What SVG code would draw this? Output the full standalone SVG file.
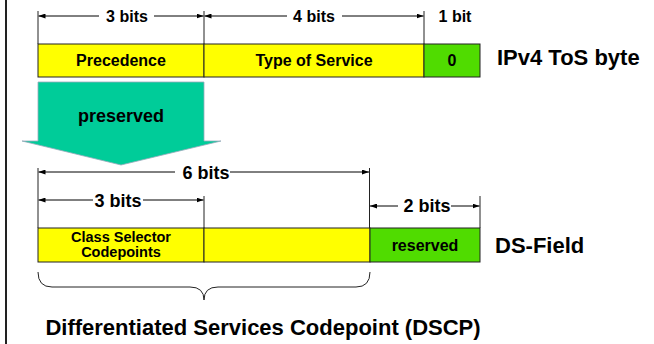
<svg xmlns="http://www.w3.org/2000/svg" width="654" height="344" viewBox="0 0 654 344">
<style>
text{font-family:"Liberation Sans",Arial,sans-serif;font-weight:bold;fill:#000;text-anchor:middle}
.y{fill:#FFFF00;stroke:#222;stroke-width:1}
.g{fill:#50DC00;stroke:#222;stroke-width:1}
.dim{stroke:#000;stroke-width:1;fill:none}
.dim-a{stroke:#000;stroke-width:1;fill:none;marker-end:url(#ah)}
.tick{stroke:#222;stroke-width:1}
.big{font-size:22px;text-anchor:start}
</style>
<defs>
<marker id="ah" viewBox="0 0 7 5" refX="7" refY="2.5" markerWidth="7" markerHeight="5" markerUnits="userSpaceOnUse" orient="auto">
<path d="M0,0 L7,2.5 L0,5 z" fill="#000"/>
</marker>
</defs>
<rect width="654" height="344" fill="#fff"/>
<line x1="6" y1="0" x2="6" y2="344" stroke="#222" stroke-width="2"/>

<g id="tos-precedence">
<rect class="y" x="38" y="44" width="166" height="33"/>
<text x="121" y="66" font-size="16">Precedence</text>
</g>
<g id="tos-type">
<rect class="y" x="204" y="44" width="220" height="33"/>
<text x="314" y="66" font-size="16">Type of Service</text>
</g>
<g id="tos-zero">
<rect class="g" x="424" y="44" width="56" height="33"/>
<text x="452" y="66" font-size="16">0</text>
</g>
<g id="tos-label"><text class="big" x="497" y="65">IPv4 ToS byte</text></g>

<g id="preserved">
<polygon points="38,82 204,82 204,141 221,141 121,165 22,141 38,141" fill="#00CC99" stroke="#9ab" stroke-width="0.8"/>
<text x="121" y="122" font-size="18">preserved</text>
</g>

<g id="ds-class">
<rect class="y" x="38" y="228" width="166" height="34"/>
<text x="121" y="242" font-size="14.5">Class Selector</text>
<text x="121" y="257" font-size="14.5">Codepoints</text>
</g>
<g id="ds-rest">
<rect class="y" x="204" y="228" width="166" height="34"/>
</g>
<g id="ds-reserved">
<rect class="g" x="370" y="228" width="110" height="34"/>
<text x="425" y="251" font-size="16">reserved</text>
</g>
<g id="ds-label"><text class="big" x="495" y="253">DS-Field</text></g>

<g id="dscp">
<path d="M38,272 Q38,287 52,287 L190,287 Q204,287 204,300 Q204,287 218,287 L356,287 Q370,287 370,272" fill="none" stroke="#222" stroke-width="1"/>
<text x="263" y="335" font-size="22">Differentiated Services Codepoint (DSCP)</text>
</g>

<g id="connectors">
<!-- top ticks -->
<line class="tick" x1="38" y1="11" x2="38" y2="44"/>
<line class="tick" x1="204" y1="11" x2="204" y2="44"/>
<line class="tick" x1="424" y1="11" x2="424" y2="44"/>
<!-- 3 bits top -->
<line class="dim-a" x1="99" y1="16" x2="38.5" y2="16"/>
<line class="dim-a" x1="154" y1="16" x2="203.5" y2="16"/>
<text x="127" y="22" font-size="16">3 bits</text>
<!-- 4 bits top -->
<line class="dim-a" x1="287" y1="16" x2="204.5" y2="16"/>
<line class="dim-a" x1="342" y1="16" x2="423.5" y2="16"/>
<text x="314" y="22" font-size="16">4 bits</text>
<text x="455" y="22" font-size="16">1 bit</text>
<!-- bottom ticks -->
<line class="tick" x1="38" y1="168" x2="38" y2="228"/>
<line class="tick" x1="369.5" y1="168" x2="369.5" y2="228"/>
<line class="tick" x1="204" y1="196" x2="204" y2="228"/>
<line class="tick" x1="480" y1="196" x2="480" y2="228"/>
<!-- 6 bits -->
<line class="dim-a" x1="175" y1="172" x2="38.5" y2="172"/>
<line class="dim-a" x1="230" y1="172" x2="369" y2="172"/>
<text x="206" y="178.5" font-size="18">6 bits</text>
<!-- 3 bits bottom -->
<line class="dim-a" x1="93" y1="200" x2="38.5" y2="200"/>
<line class="dim-a" x1="143" y1="200" x2="203.5" y2="200"/>
<text x="118" y="206.5" font-size="18">3 bits</text>
<!-- 2 bits -->
<line class="dim-a" x1="398" y1="206" x2="370" y2="206"/>
<line class="dim-a" x1="451" y1="206" x2="479.5" y2="206"/>
<text x="427" y="212" font-size="18">2 bits</text>
</g>
</svg>
